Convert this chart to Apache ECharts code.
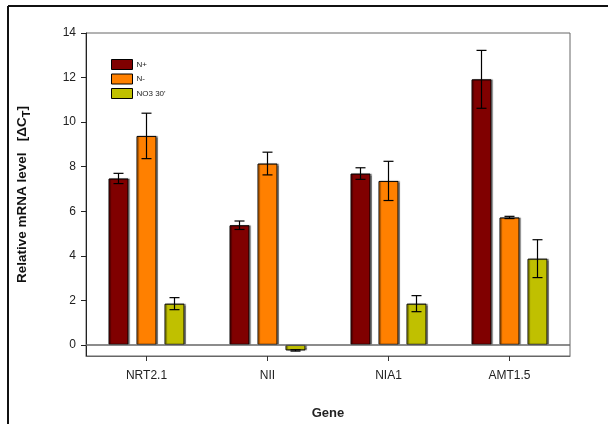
<!DOCTYPE html>
<html>
<head>
<meta charset="utf-8">
<script src="https://cdn.jsdelivr.net/npm/echarts@6/dist/echarts.min.js"></script>
<style>html,body{margin:0;padding:0;background:#fff}#c{width:608px;height:424px}</style>
</head>
<body>
<div id="c"></div>
<script>
var categories = ['NRT2.1', 'NII', 'NIA1', 'AMT1.5'];
var seriesNames = ['N+', 'N-', 'NO3 30\''];
var nPlus = [7.47, 5.37, 7.69, 11.92];
var nPlusErr = [0.23, 0.19, 0.26, 1.3];
var nMinus = [9.38, 8.14, 7.36, 5.72];
var nMinusErr = [1.02, 0.51, 0.88, 0.05];
var no3 = [1.85, -0.25, 1.85, 3.87];
var no3Err = [0.27, 0.03, 0.36, 0.85];
var yTicks = [0, 2, 4, 6, 8, 10, 12, 14];

var colors = ['#800000', '#ff8000', '#c0c000'];
var values = [nPlus, nMinus, no3];
var errs = [nPlusErr, nMinusErr, no3Err];

var errData = [];
for (var s = 0; s < 3; s++) {
  for (var i = 0; i < categories.length; i++) {
    errData.push([i, values[s][i] - errs[s][i], values[s][i] + errs[s][i], s]);
  }
}

var chart = echarts.init(document.getElementById('c'), null, {renderer: 'canvas'});
var font = 'Liberation Sans, Arial, sans-serif';

var series = [];
for (var k = 0; k < 3; k++) {
  var sObj = {
    name: seriesNames[k],
    type: 'bar',
    data: values[k],
    barWidth: 20,
    barGap: '40%',
    itemStyle: {color: colors[k], borderColor: '#000', borderWidth: 1,
      shadowColor: 'rgba(0,0,0,0.35)', shadowOffsetX: 1.5, shadowOffsetY: 0, shadowBlur: 1},
    emphasis: {disabled: true},
    silent: true,
    animation: false,
    z: 3
  };
  if (k === 0) {
    sObj.markLine = {
      silent: true, symbol: ['none', 'none'], label: {show: false},
      lineStyle: {color: '#666', width: 1.5, type: 'solid'},
      data: [{yAxis: 0}], animation: false
    };
  }
  series.push(sObj);
}

series.push({
  type: 'custom',
  silent: true,
  animation: false,
  z: 10,
  data: errData,
  encode: {x: 0, y: [1, 2]},
  renderItem: function (params, api) {
    var ci = api.value(0);
    var si = api.value(3);
    var lo = api.coord([ci, api.value(1)]);
    var hi = api.coord([ci, api.value(2)]);
    var x = lo[0] + (si - 1) * 28;
    var cap = 5;
    var st = {stroke: '#000', lineWidth: 1.2};
    return {
      type: 'group',
      children: [
        {type: 'line', shape: {x1: x, y1: lo[1], x2: x, y2: hi[1]}, style: st},
        {type: 'line', shape: {x1: x - cap, y1: lo[1], x2: x + cap, y2: lo[1]}, style: st},
        {type: 'line', shape: {x1: x - cap, y1: hi[1], x2: x + cap, y2: hi[1]}, style: st}
      ]
    };
  }
});

var option = {
  animation: false,
  backgroundColor: '#fff',
  grid: {left: 86, top: 33, right: 38, bottom: 68, show: true, borderColor: '#666', borderWidth: 1,
    backgroundColor: 'transparent', containLabel: false, outerBoundsMode: 'none'},
  legend: {
    orient: 'vertical', left: 106, top: 54, itemWidth: 21, itemHeight: 10, itemGap: 3.5,
    data: seriesNames,
    icon: 'rect',
    itemStyle: {borderColor: '#000', borderWidth: 1},
    textStyle: {fontFamily: font, fontSize: 8, color: '#222', padding: [0, 0, 0, -1]},
    selectedMode: false
  },
  xAxis: {
    type: 'category',
    data: categories,
    boundaryGap: true,
    name: 'Gene',
    nameLocation: 'middle',
    nameGap: 51,
    nameTextStyle: {fontFamily: font, fontSize: 13, fontWeight: 'bold', color: '#222'},
    axisLine: {show: true, onZero: false, lineStyle: {color: '#666', width: 1}},
    axisTick: {show: true, alignWithLabel: true, length: 5, lineStyle: {color: '#333'}},
    axisLabel: {fontFamily: font, fontSize: 12, color: '#222', margin: 14},
    splitLine: {show: false}
  },
  yAxis: {
    type: 'value',
    min: -0.5,
    max: 14,
    interval: 2,
    name: '{a|Relative mRNA level   [ΔC}{s|T}{a|]}',
    nameLocation: 'middle',
    nameGap: 54,
    nameRotate: 90,
    nameTextStyle: {
      rich: {
        a: {fontFamily: font, fontSize: 13.5, fontWeight: 'bold', color: '#111'},
        s: {fontFamily: font, fontSize: 11, fontWeight: 'bold', color: '#111', verticalAlign: 'bottom', padding: [9, 0, 0, 0]}
      }
    },
    axisLine: {show: true, onZero: false, lineStyle: {color: '#222', width: 1}},
    axisTick: {show: true, length: 5, lineStyle: {color: '#222'}, customValues: yTicks},
    axisLabel: {fontFamily: font, fontSize: 12, color: '#222', margin: 10, customValues: yTicks},
    splitLine: {show: false}
  },
  graphic: [
    {type: 'line', shape: {x1: 8, y1: 6, x2: 608, y2: 6}, style: {stroke: '#111', lineWidth: 2}},
    {type: 'line', shape: {x1: 8, y1: 6, x2: 8, y2: 424}, style: {stroke: '#111', lineWidth: 2}}
  ],
  series: series
};
chart.setOption(option);
</script>
</body>
</html>
